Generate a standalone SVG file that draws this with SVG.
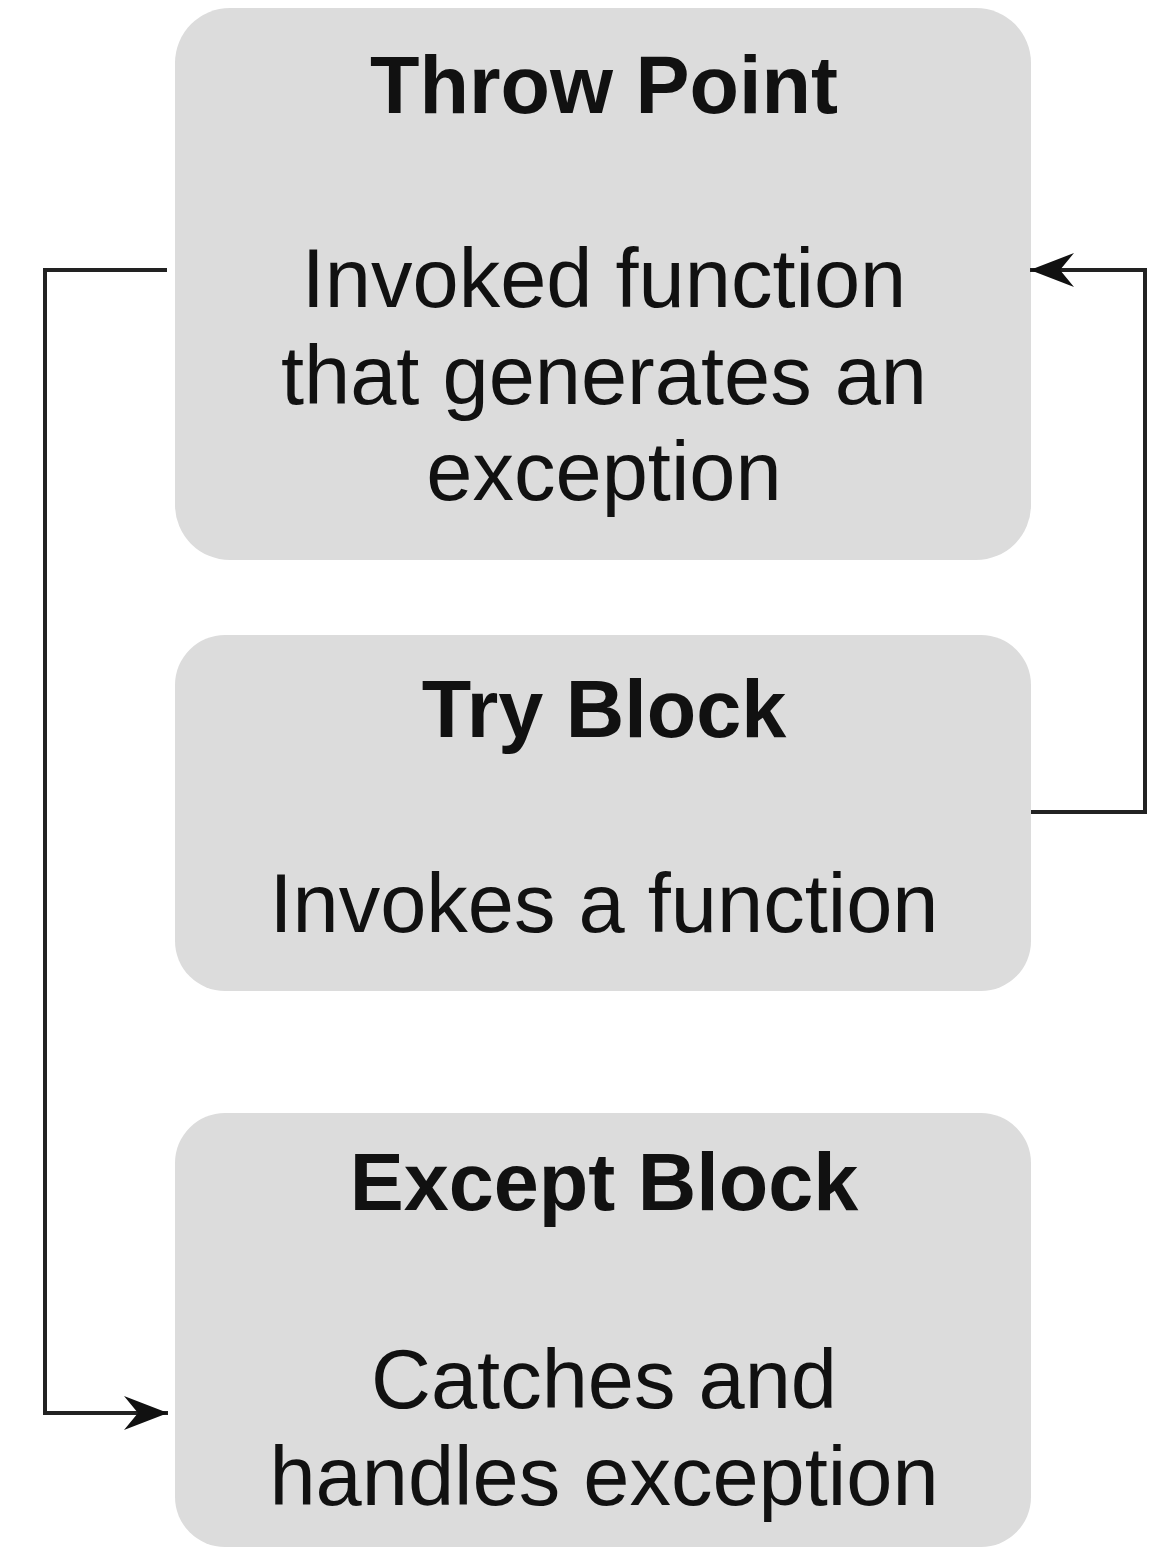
<svg xmlns="http://www.w3.org/2000/svg" width="1150" height="1547" viewBox="0 0 1150 1547">
  <style>
    .box { fill: #dcdcdc; }
    .title { font-family: "Liberation Sans", Arial, sans-serif; font-size: 81px; font-weight: bold; fill: #111; text-anchor: middle; }
    .body { font-family: "Liberation Sans", Arial, sans-serif; font-size: 83px; fill: #111; text-anchor: middle; }
    .wire { fill: none; stroke: #222; stroke-width: 4; stroke-linejoin: miter; }
  </style>
  <defs>
    <marker id="arrow" viewBox="0 0 44 36" refX="44" refY="18" markerWidth="44" markerHeight="36" markerUnits="userSpaceOnUse" orient="auto">
      <path d="M0,1 L44,18 L0,35 L14,18 Z" fill="#111"/>
    </marker>
  </defs>

  <rect width="1150" height="1547" fill="#fff"/>

  <g id="throw-point">
    <rect class="box" x="175" y="8" width="856" height="552" rx="55"/>
    <text class="title" x="604" y="113">Throw Point</text>
    <text class="body" x="604" y="307">Invoked function</text>
    <text class="body" x="604" y="404">that generates an</text>
    <text class="body" x="604" y="500">exception</text>
  </g>

  <g id="try-block">
    <rect class="box" x="175" y="635" width="856" height="356" rx="50"/>
    <text class="title" x="604" y="737">Try Block</text>
    <text class="body" x="604" y="932">Invokes a function</text>
  </g>

  <g id="except-block">
    <rect class="box" x="175" y="1113" width="856" height="434" rx="50"/>
    <text class="title" x="604" y="1210">Except Block</text>
    <text class="body" x="604" y="1408">Catches and</text>
    <text class="body" x="604" y="1505">handles exception</text>
  </g>

  <g id="connectors">
    <path class="wire" d="M167,270 H45 V1413 H168" marker-end="url(#arrow)"/>
    <path class="wire" d="M1031,812 H1145 V270 H1030" marker-end="url(#arrow)"/>
  </g>
</svg>
